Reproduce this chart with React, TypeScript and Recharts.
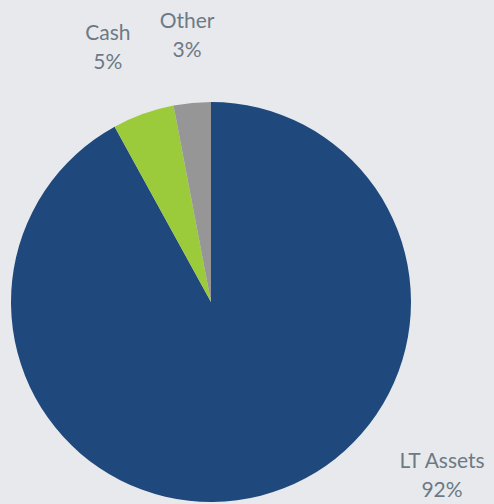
import React from "react";
import { Cell, Pie, PieChart } from "recharts";

const NAMES = ["LT Assets", "Cash", "Other"];
const VALUES = [92, 5, 3];
const COLORS = ["#1f497d", "#9bcb3b", "#969696"];

// label placement (Excel-style, relative to pie center): angle in degrees, distance in px to first baseline
const LABEL_POS = [
  { angle: -35.7, dist: 284.5 },
  { angle: 111.5, dist: 281.5 },
  { angle: 95.0, dist: 275 },
];

const data = NAMES.map((name, i) => ({ name, value: VALUES[i] }));

const renderLabel = (props: any) => {
  const { cx, cy, index } = props;
  const p = LABEL_POS[index];
  const rad = (p.angle * Math.PI) / 180;
  const x = cx + p.dist * Math.cos(rad);
  const y = cy - p.dist * Math.sin(rad);
  return (
    <text
      x={x}
      y={y}
      textAnchor="middle"
      fill="#6d7a85"
      fontSize={21}
      fontFamily="Lato, 'Open Sans', sans-serif"
    >
      <tspan x={x} dy={0}>
        {data[index].name}
      </tspan>
      <tspan x={x} dy={29}>
        {data[index].value}%
      </tspan>
    </text>
  );
};

export default function App() {
  return (
    <div
      style={{
        position: "fixed",
        left: 0,
        top: 0,
        width: 494,
        height: 504,
        background: "#e8e9ed",
      }}
    >
      <PieChart width={494} height={504} margin={{ top: 0, right: 0, bottom: 0, left: 0 }}>
        <Pie
          data={data}
          dataKey="value"
          cx={211}
          cy={302}
          outerRadius={200}
          startAngle={90}
          endAngle={-270}
          stroke="none"
          label={renderLabel}
          labelLine={false}
          isAnimationActive={false}
        >
          {data.map((entry, index) => (
            <Cell key={`cell-${index}`} fill={COLORS[index]} />
          ))}
        </Pie>
      </PieChart>
    </div>
  );
}
